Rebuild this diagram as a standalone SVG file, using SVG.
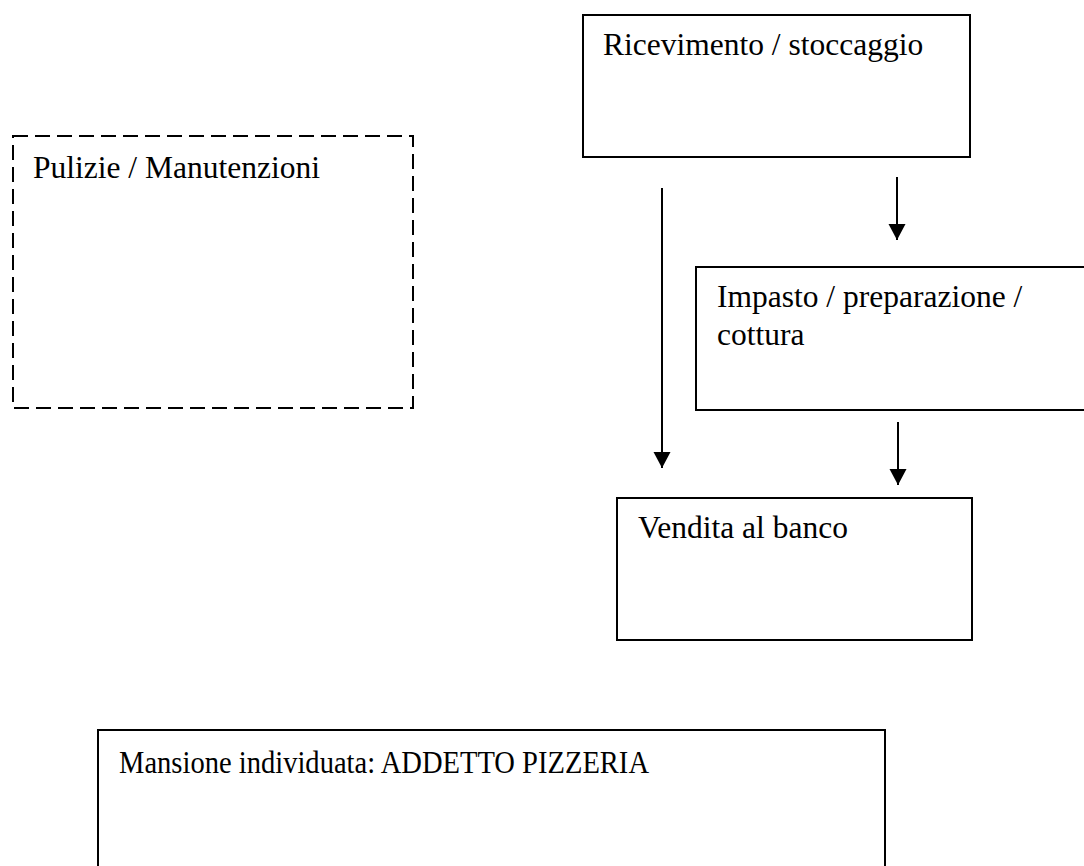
<svg xmlns="http://www.w3.org/2000/svg" width="1084" height="866" viewBox="0 0 1084 866">
<style>
.box{fill:none;stroke:#000;stroke-width:2}
.dash{stroke-dasharray:15 7}
.lbl{font-family:"Liberation Serif","Times New Roman",serif;font-size:31.5px;fill:#000}
.conn{stroke:#000;stroke-width:2;fill:none}
</style>
<defs>
<marker id="ah" markerUnits="userSpaceOnUse" markerWidth="18" markerHeight="18" refX="16" refY="8.5" orient="auto">
<path d="M0,0 L16,8.5 L0,17 Z" fill="#000"/>
</marker>
</defs>
<rect width="1084" height="866" fill="#fff"/>
<g id="ricevimento">
<rect class="box" x="583" y="15" width="387" height="142"/>
<text class="lbl" x="603" y="55">Ricevimento / stoccaggio</text>
</g>
<g id="pulizie">
<rect class="box dash" x="13" y="136" width="400" height="272"/>
<text class="lbl" x="33" y="178">Pulizie / Manutenzioni</text>
</g>
<g id="impasto">
<rect class="box" x="696" y="267" width="400" height="143"/>
<text class="lbl" x="717" y="307">Impasto / preparazione /</text>
<text class="lbl" x="717" y="345">cottura</text>
</g>
<g id="vendita">
<rect class="box" x="617" y="498" width="355" height="142"/>
<text class="lbl" x="638" y="538">Vendita al banco</text>
</g>
<g id="mansione">
<rect class="box" x="98" y="730" width="787" height="150"/>
<text class="lbl" x="119" y="773" textLength="530" lengthAdjust="spacingAndGlyphs">Mansione individuata: ADDETTO PIZZERIA</text>
</g>
<g id="connectors">
<line class="conn" x1="662" y1="188" x2="662" y2="468" marker-end="url(#ah)"/>
<line class="conn" x1="897" y1="177" x2="897" y2="240" marker-end="url(#ah)"/>
<line class="conn" x1="898" y1="422" x2="898" y2="485" marker-end="url(#ah)"/>
</g>
</svg>
